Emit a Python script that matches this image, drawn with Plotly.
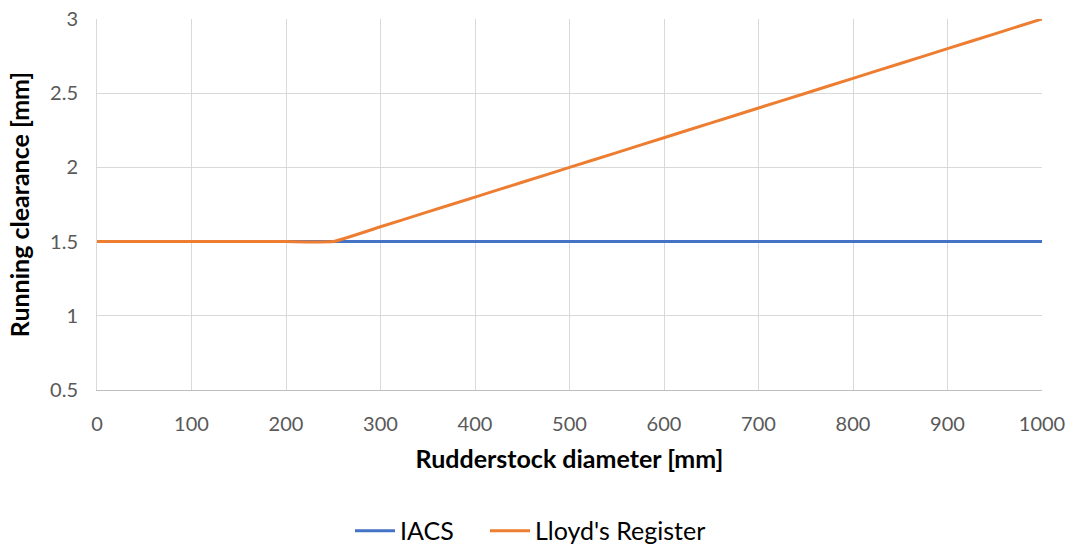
import plotly.graph_objects as go

diameter = [0, 50, 100, 150, 200, 250, 300, 350, 400, 450, 500, 550, 600, 650, 700, 750, 800, 850, 900, 950, 1000]
iacs = [1.5] * len(diameter)
lloyds = [1.5, 1.5, 1.5, 1.5, 1.5, 1.5, 1.6, 1.7, 1.8, 1.9, 2.0, 2.1, 2.2, 2.3, 2.4, 2.5, 2.6, 2.7, 2.8, 2.9, 3.0]

FONT = "Lato, 'Open Sans', sans-serif"

fig = go.Figure()
fig.add_trace(go.Scatter(x=diameter, y=iacs, mode="lines", name="IACS",
                         line=dict(color="#4472C4", width=3), legend="legend"))
fig.add_trace(go.Scatter(x=diameter, y=lloyds, mode="lines", name="Lloyd's Register",
                         line=dict(color="#ED7D31", width=3, shape="spline", smoothing=0.3),
                         legend="legend2"))

leg_common = dict(orientation="h", xanchor="left", y=-0.38, yanchor="middle",
                  font=dict(size=25, color="#000000"), itemwidth=40,
                  bgcolor="rgba(0,0,0,0)")

fig.update_layout(
    width=1069, height=544,
    margin=dict(l=97, r=27, t=19, b=154, autoexpand=False),
    paper_bgcolor="white", plot_bgcolor="white",
    font=dict(family=FONT, color="#595959", size=20),
    showlegend=True,
    legend=dict(x=0.2677, **leg_common),
    legend2=dict(x=0.4106, **leg_common),
    xaxis=dict(range=[0, 1000], dtick=100, tick0=0, showgrid=True, gridcolor="#d9d9d9",
               showline=True, linecolor="#bfbfbf", linewidth=1, zeroline=False, ticks="",
               automargin=False, ticklabelstandoff=16,
               title=dict(text="<b>Rudderstock diameter [mm]</b>", standoff=16,
                          font=dict(size=25, color="#000000"))),
    yaxis=dict(range=[0.5, 3], dtick=0.5, tick0=0.5, showgrid=True, gridcolor="#d9d9d9",
               showline=True, linecolor="#d9d9d9", linewidth=1, zeroline=False, ticks="",
               automargin=False, ticklabelstandoff=14,
               title=dict(text="<b>Running clearance [mm]</b>", standoff=13,
                          font=dict(size=25, color="#000000"))),
)

fig.write_html("out.html")
